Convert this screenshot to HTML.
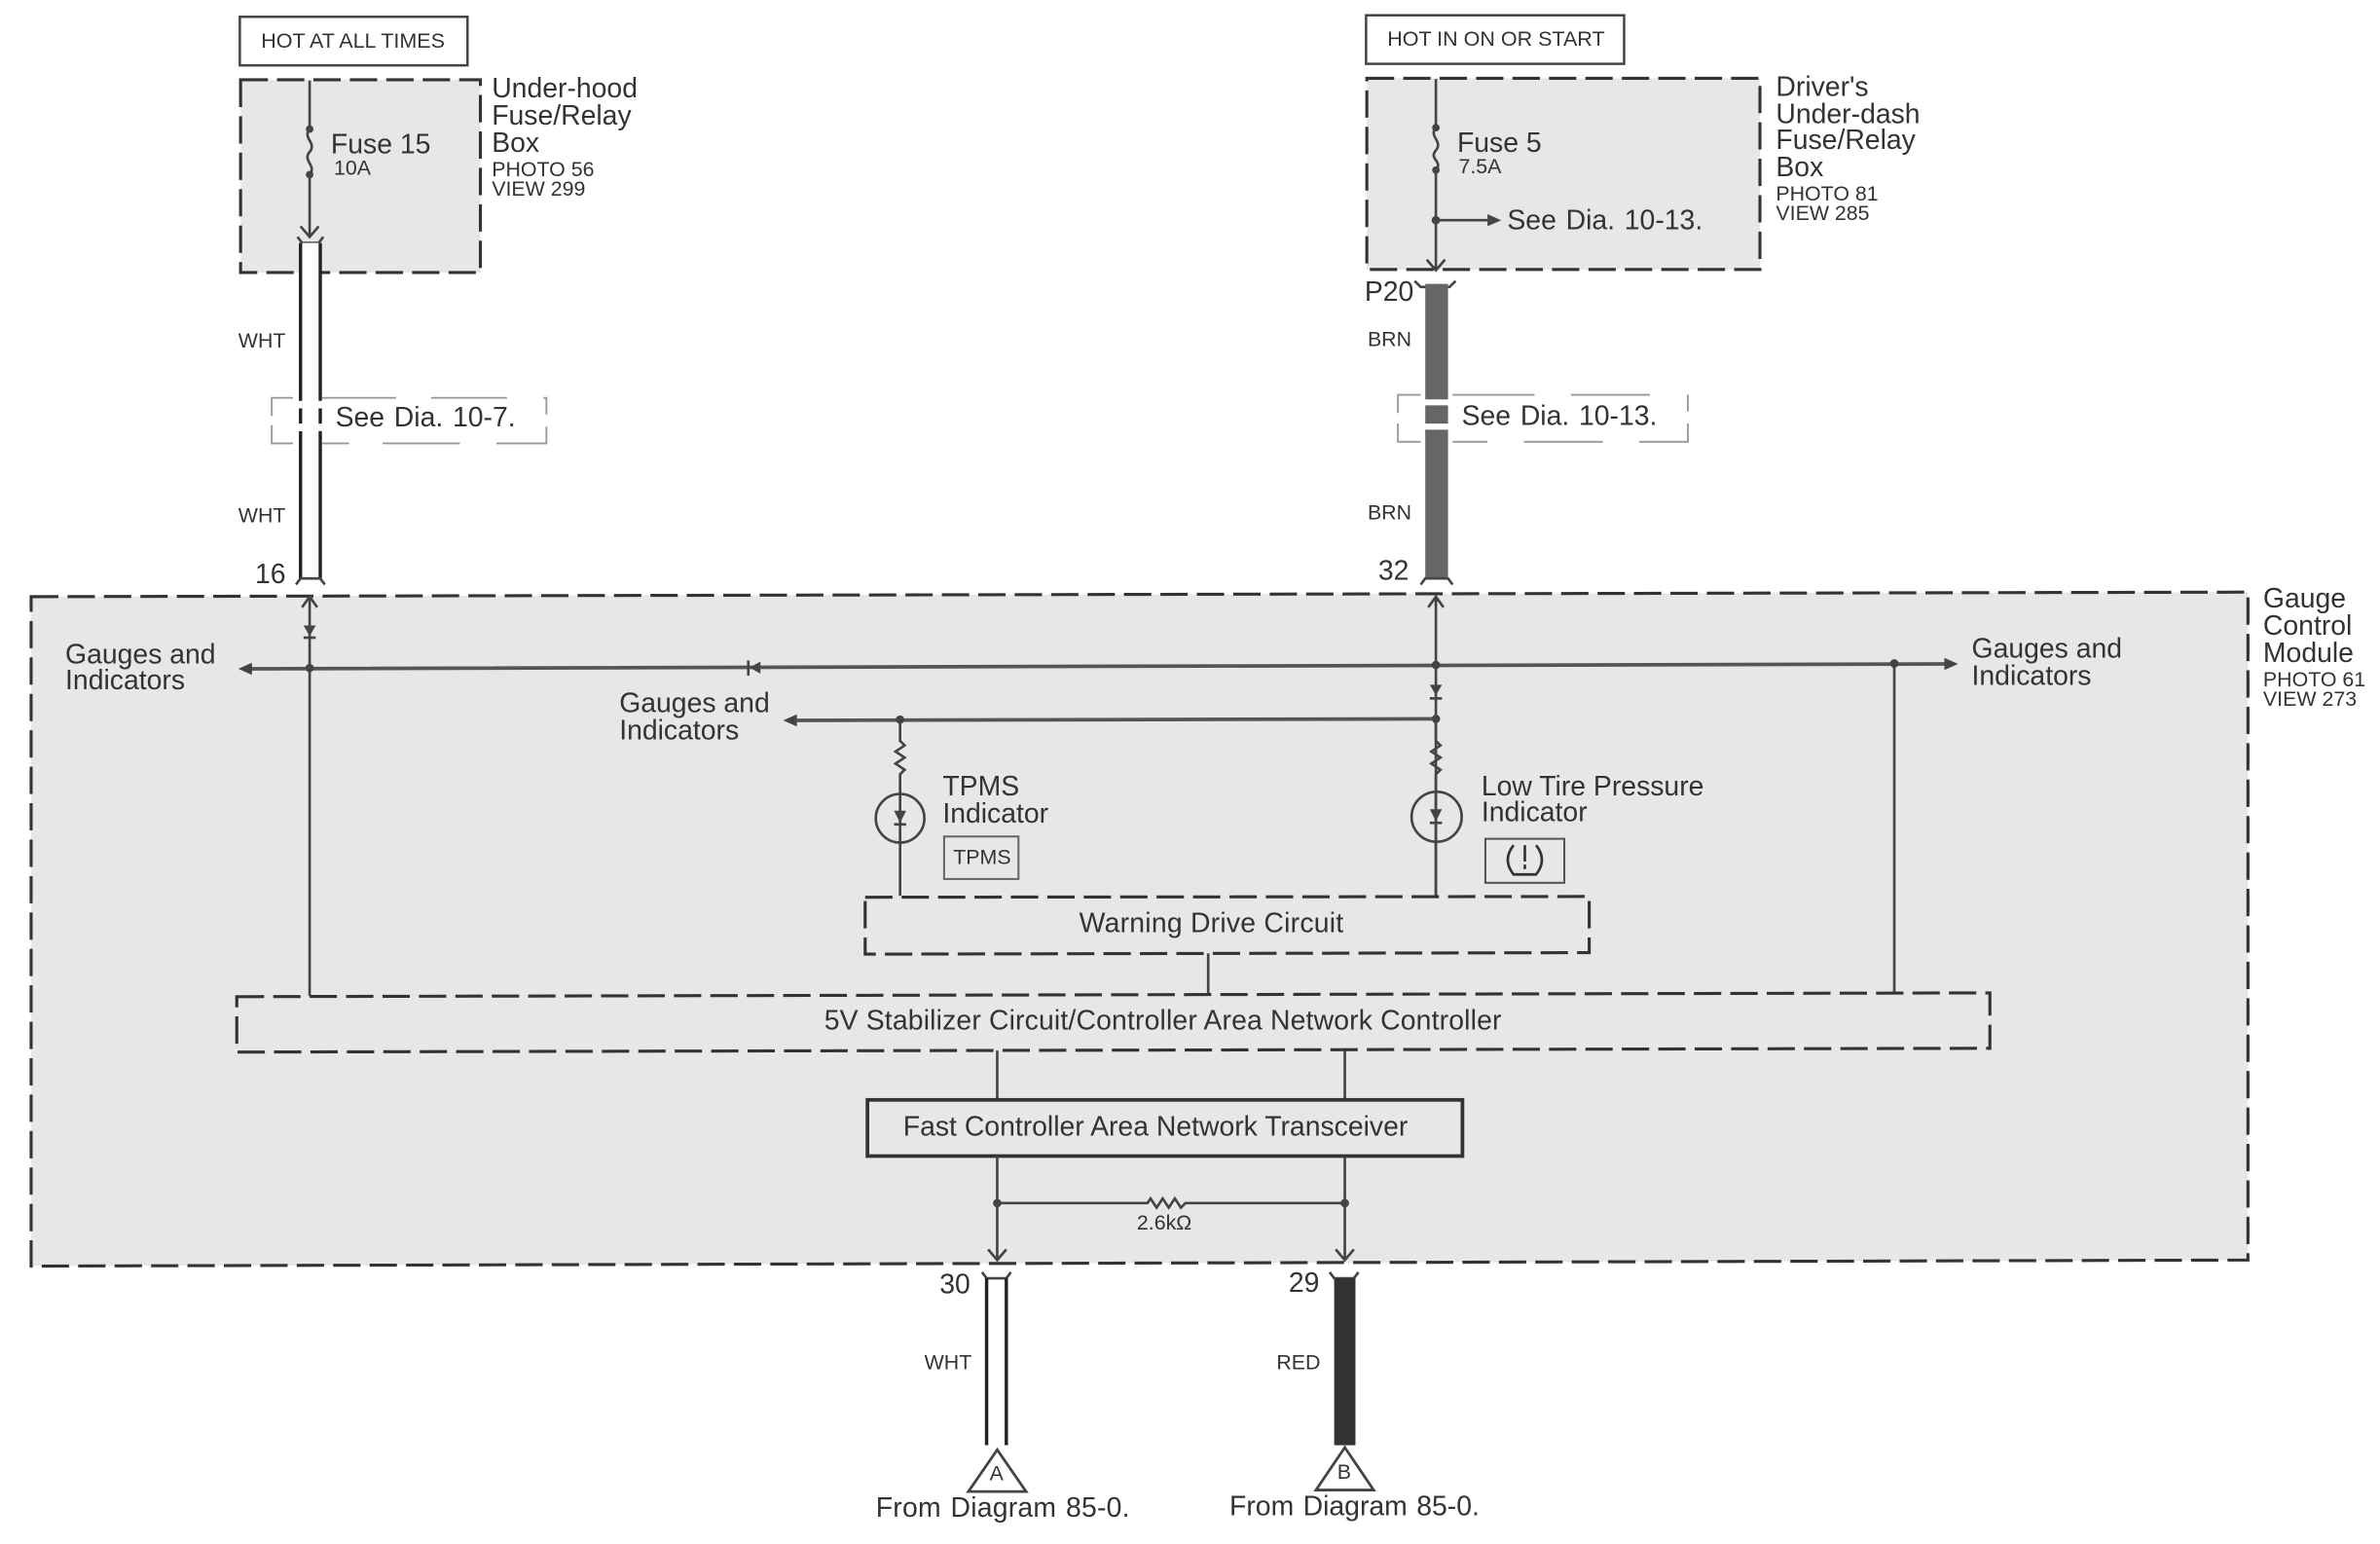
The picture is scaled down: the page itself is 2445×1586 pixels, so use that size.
<!DOCTYPE html>
<html><head><meta charset="utf-8"><style>
html,body{margin:0;padding:0;background:#fff}
svg{display:block}
text{font-family:"Liberation Sans",sans-serif;fill:#333}
.l{font-size:18.2px}.s{font-size:13.7px}.m{font-size:13.8px}
.sp{word-spacing:1.2px}
.fr{letter-spacing:.2px;word-spacing:1px}
.d{fill:#e7e7e7;stroke:#333;stroke-width:2;stroke-dasharray:18 6}
.n{fill:none}
.w{stroke:#444;stroke-width:1.7;fill:none}
.b{stroke:#555;stroke-width:2.4;fill:none}
.k{fill:#444}
.g{stroke:#999;stroke-width:1.2;fill:none}
</style></head><body>
<svg xmlns="http://www.w3.org/2000/svg" width="2445" height="1586" viewBox="0 0 1568 1017">
<rect width="1568" height="1017" fill="#fff"/>

<!-- top left -->
<rect x="158" y="11" width="150" height="32" fill="#fff" stroke="#444" stroke-width="1.6"/>
<text class="m" x="172" y="31.5">HOT AT ALL TIMES</text>
<rect class="d" x="158.500" y="52.500" width="158" height="127"/>
<text class="l" x="324" y="64">Under-hood</text>
<text class="l" x="324" y="82">Fuse/Relay</text>
<text class="l" x="324" y="100">Box</text>
<text class="s" x="324" y="116">PHOTO 56</text>
<text class="s" x="324" y="129">VIEW 299</text>
<path class="w" d="M204 53V85c-5 6 5 9 0 15s5 9 0 15V156M198 149l6 7 6-7"/>
<circle class="k" cx="204" cy="85" r="2.500"/><circle class="k" cx="204" cy="115" r="2.500"/>
<text class="l" x="218" y="101">Fuse 15</text>
<text class="s" x="220" y="115">10A</text>

<!-- left harness -->
<path d="M196 156l3 4H210l3-4" class="w"/>
<rect x="199" y="160" width="12" height="220" fill="#fff"/>
<path stroke="#222" stroke-width="2.200" fill="none" d="M198 160V264M211 160V264M198 269V279M211 269V279M198 284V381M211 284V381"/>
<path d="M195 385l3-4H211l3 4" class="w"/>
<path class="g" d="M179 274V262H193M212 262H261M284 262H334M358 262H360V273M179 280V292H193M212 292H230M252 292H303M327 292H360V281"/>
<text class="l sp" x="221" y="281">See Dia. 10-7.</text>
<text class="s" x="157" y="229">WHT</text>
<text class="s" x="157" y="344">WHT</text>
<text class="l" x="168" y="384">16</text>

<!-- top right -->
<rect x="900" y="10" width="170" height="32" fill="#fff" stroke="#444" stroke-width="1.600"/>
<text class="m" x="914" y="30">HOT IN ON OR START</text>
<rect class="d" x="900.500" y="51.500" width="259" height="126"/>
<text class="l" x="1170" y="63">Driver's</text>
<text class="l" x="1170" y="81">Under-dash</text>
<text class="l" x="1170" y="98">Fuse/Relay</text>
<text class="l" x="1170" y="116">Box</text>
<text class="s" x="1170" y="132">PHOTO 81</text>
<text class="s" x="1170" y="145">VIEW 285</text>
<path class="w" d="M946 52V84c-5 6 5 9 0 15s5 7 0 13V178M940 171l6 7 6-7M946 145H980"/>
<circle class="k" cx="946" cy="84" r="2.500"/><circle class="k" cx="946" cy="112" r="2.500"/><circle class="k" cx="946" cy="145" r="2.800"/>
<path class="k" d="M980 141l9 4-9 4z"/>
<text class="l" x="960" y="100">Fuse 5</text>
<text class="s" x="961" y="114">7.5A</text>
<text class="l sp" x="993" y="151">See Dia. 10-13.</text>

<!-- right harness -->
<path d="M932 185l4 4H955l4-4" class="w"/>
<path fill="#666" d="M939 187H954V263H939zM939 267H954V279H939zM939 283H954V381H939z"/>
<path d="M936 385l3-4H954l3 4" class="w"/>
<path class="g" d="M921 272V260H936M957 260H1011M1035 260H1087M1112 260V271M921 279V291H936M957 291H980M1004 291H1056M1080 291H1112V279"/>
<text class="l sp" x="963" y="280">See Dia. 10-13.</text>
<text class="l" x="899" y="198">P20</text>
<text class="s" x="901" y="228">BRN</text>
<text class="s" x="901" y="342">BRN</text>
<text class="l" x="908" y="382">32</text>

<!-- module -->
<path class="d" d="M20.500 393L1481 390V830L20.500 834Z"/>
<text class="l" x="1491" y="400">Gauge</text>
<text class="l" x="1491" y="418">Control</text>
<text class="l" x="1491" y="436">Module</text>
<text class="s" x="1491" y="452">PHOTO 61</text>
<text class="s" x="1491" y="465">VIEW 273</text>

<!-- buses -->
<path class="b" d="M165 440.500L1283 437.300M525 474.500L946 473.500"/>
<path class="k" d="M157 440.500l9-4v8zM1290 437.300l-9-4v8zM516 474.500l9-4v8zM494 439.700l7-4v8z"/>
<path class="w" d="M493 435V445"/>
<circle class="k" cx="204" cy="440" r="2.800"/><circle class="k" cx="946" cy="438" r="2.800"/><circle class="k" cx="1248" cy="437" r="2.800"/><circle class="k" cx="593" cy="474" r="2.800"/><circle class="k" cx="946" cy="473.500" r="2.800"/>
<text class="l" x="43" y="437">Gauges and</text><text class="l" x="43" y="454">Indicators</text>
<text class="l" x="408" y="469">Gauges and</text><text class="l" x="408" y="487">Indicators</text>
<text class="l" x="1299" y="433">Gauges and</text><text class="l" x="1299" y="451">Indicators</text>

<!-- vertical wires -->
<path class="w" d="M204 393V656M199 400l5-7 5 7M946 393V590M941 400l5-7 5 7M1248 438V654"/>
<path class="k" d="M200 412h8l-4 7z"/><path class="w" d="M200 420H208"/>
<path class="k" d="M942 451h8l-4 7z"/><path class="w" d="M942 460H950"/>
<path class="w" d="M593 474V488l3 3-6 4 6 4-6 4 6 4-3 3V590M946 474V488l3 3-6 4 6 4-6 4 6 4-3 3V590"/>
<circle class="w" cx="593" cy="539" r="16"/><circle class="w" cx="946.500" cy="538" r="16.500"/>
<path class="k" d="M589 534h8l-4 8z"/><path class="w" d="M589 543H597"/>
<path class="k" d="M942 533h8l-4 8z"/><path class="w" d="M942 542H950"/>

<text class="l" x="621" y="524">TPMS</text><text class="l" x="621" y="542">Indicator</text>
<rect x="622" y="551" width="49" height="28" fill="none" stroke="#666" stroke-width="1.300"/>
<text class="s" x="628" y="569">TPMS</text>
<text class="l" x="976" y="524">Low Tire Pressure</text><text class="l" x="976" y="541">Indicator</text>
<rect x="978.600" y="552.500" width="52" height="29" fill="none" stroke="#555" stroke-width="1.300"/>
<path fill="none" stroke="#333" stroke-width="1.700" d="M997.200 556.700Q989.500 566.300 997.200 576H1012Q1019.700 566.300 1012 556.700M1004.600 556.700V567.500M1004.600 569.500V572.500"/>

<!-- circuits -->
<path class="d n" d="M570 591L1047 590.500V627.500L570 628.500Z"/>
<text class="l" x="711" y="614" style="letter-spacing:.15px">Warning Drive Circuit</text>
<path class="w" d="M796 628V655M657 692V724M886 692V724"/>
<path class="d n" d="M156 656.500L1311 654V690.500L156 693Z"/>
<text class="l" x="543" y="678" style="letter-spacing:.1px">5V Stabilizer Circuit/Controller Area Network Controller</text>
<rect x="571.500" y="724.500" width="392" height="37" fill="none" stroke="#333" stroke-width="2.400"/>
<text class="l" x="595" y="748">Fast Controller Area Network Transceiver</text>

<path class="w" d="M657 762V830M651 823l6 7 6-7M886 762V830M880 823l6 7 6-7"/>
<path class="w" d="M657 792.500H756l2-3 4 6 4-6 4 6 4-6 4 6 3-3H886"/>
<circle class="k" cx="657" cy="792.500" r="2.800"/><circle class="k" cx="886" cy="792.500" r="2.800"/>
<text class="s" x="749" y="810">2.6kΩ</text>

<!-- bottom -->
<path class="w" d="M647 838l3 4H663l3-4M876 838l3 4H892l3-4"/>
<path stroke="#222" stroke-width="2.200" fill="none" d="M650 842V952M663 842V952"/>
<rect x="879" y="842" width="14" height="110" fill="#333"/>
<path class="w" style="stroke-width:1.800" d="M657 955L676 982.500H638ZM886 953.500L905 981.500H867Z"/>
<text class="s" x="652" y="975">A</text>
<text class="s" x="881" y="974">B</text>
<text class="l" x="619" y="852">30</text>
<text class="l" x="849" y="851">29</text>
<text class="s" x="609" y="902">WHT</text>
<text class="s" x="841" y="902">RED</text>
<text class="l" x="577" y="999" style="letter-spacing:.15px;word-spacing:1px">From Diagram 85-0.</text>
<text class="l" x="810" y="998" style="word-spacing:1px">From Diagram 85-0.</text>
</svg>
</body></html>
